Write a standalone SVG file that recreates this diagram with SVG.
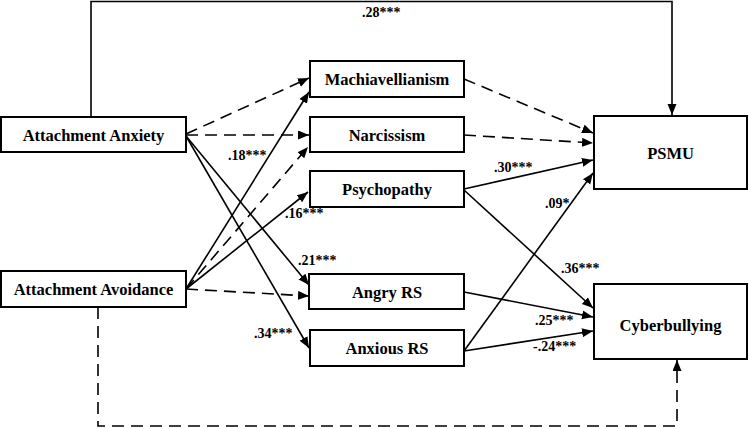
<svg xmlns="http://www.w3.org/2000/svg" width="749" height="428" viewBox="0 0 749 428">
<defs>
<style>
.box{fill:#fff;stroke:#000;stroke-width:2}
.lbl{font-family:'Liberation Serif',serif;font-weight:bold;font-size:16.5px;text-anchor:middle;fill:#000}
.coef{font-family:'Liberation Serif',serif;font-weight:bold;font-size:14px;fill:#000}
.e{fill:none;stroke:#000;stroke-width:1.6}
.d{stroke-dasharray:12 7}
</style>
<marker id="ah" markerUnits="userSpaceOnUse" markerWidth="12" markerHeight="10" refX="11" refY="4.5" orient="auto">
<path d="M0,0 L11,4.5 L0,9 z" fill="#000"/>
</marker>
</defs>
<rect width="749" height="428" fill="#fff"/>
<g id="connectors">
<path class="e" d="M91,117 V1.5 H672 V115" marker-end="url(#ah)"/>
<path class="e d" d="M98,307 V426 H677 V360" marker-end="url(#ah)"/>
<line class="e d" x1="186" y1="134" x2="309" y2="78" marker-end="url(#ah)"/>
<line class="e d" x1="186" y1="135" x2="309" y2="135" marker-end="url(#ah)"/>
<line class="e" x1="186" y1="136" x2="309" y2="285" marker-end="url(#ah)"/>
<line class="e" x1="186" y1="136" x2="309" y2="348" marker-end="url(#ah)"/>
<line class="e" x1="186" y1="289" x2="309" y2="92" marker-end="url(#ah)"/>
<line class="e d" x1="186" y1="289" x2="308" y2="147" marker-end="url(#ah)"/>
<line class="e" x1="186" y1="289" x2="308" y2="192" marker-end="url(#ah)"/>
<line class="e d" x1="186" y1="289" x2="309" y2="296" marker-end="url(#ah)"/>
<line class="e d" x1="464" y1="79" x2="593" y2="133" marker-end="url(#ah)"/>
<line class="e d" x1="464" y1="135" x2="593" y2="143" marker-end="url(#ah)"/>
<line class="e" x1="464" y1="189" x2="593" y2="160" marker-end="url(#ah)"/>
<line class="e" x1="464" y1="190" x2="593" y2="308" marker-end="url(#ah)"/>
<line class="e" x1="464" y1="292" x2="593" y2="317" marker-end="url(#ah)"/>
<line class="e" x1="464" y1="351" x2="593" y2="331" marker-end="url(#ah)"/>
<line class="e" x1="464" y1="351" x2="593" y2="173" marker-end="url(#ah)"/>
</g>
<g id="coefficients" font-family="Liberation Serif, serif">
<text class="coef" x="362" y="17">.28***</text>
<text class="coef" x="228" y="160">.18***</text>
<text class="coef" x="285" y="218">.16***</text>
<text class="coef" x="298" y="265">.21***</text>
<text class="coef" x="254" y="338">.34***</text>
<text class="coef" x="494" y="172">.30***</text>
<text class="coef" x="545" y="208">.09*</text>
<text class="coef" x="561" y="273">.36***</text>
<text class="coef" x="535" y="325">.25***</text>
<text class="coef" x="533" y="351">-.24***</text>
</g>
<g id="attachment-anxiety">
<rect class="box" x="1" y="117" width="185" height="35"/>
<text class="lbl" x="93.5" y="140.5">Attachment Anxiety</text>
</g>
<g id="attachment-avoidance">
<rect class="box" x="1" y="271" width="185" height="36"/>
<text class="lbl" x="93.5" y="294.5">Attachment Avoidance</text>
</g>
<g id="machiavellianism">
<rect class="box" x="310" y="61" width="154" height="36"/>
<text class="lbl" x="387" y="84.5">Machiavellianism</text>
</g>
<g id="narcissism">
<rect class="box" x="310" y="117" width="154" height="35"/>
<text class="lbl" x="387" y="140.5">Narcissism</text>
</g>
<g id="psychopathy">
<rect class="box" x="310" y="171" width="154" height="36"/>
<text class="lbl" x="387" y="194.5">Psychopathy</text>
</g>
<g id="angry-rs">
<rect class="box" x="309" y="274" width="155" height="35"/>
<text class="lbl" x="387" y="297.5">Angry RS</text>
</g>
<g id="anxious-rs">
<rect class="box" x="310" y="330" width="154" height="36"/>
<text class="lbl" x="387" y="353.5">Anxious RS</text>
</g>
<g id="psmu">
<rect class="box" x="594" y="116" width="153" height="73"/>
<text class="lbl" x="670.5" y="158.5">PSMU</text>
</g>
<g id="cyberbullying">
<rect class="box" x="594" y="284" width="153" height="75"/>
<text class="lbl" x="670.5" y="331">Cyberbullying</text>
</g>
</svg>
